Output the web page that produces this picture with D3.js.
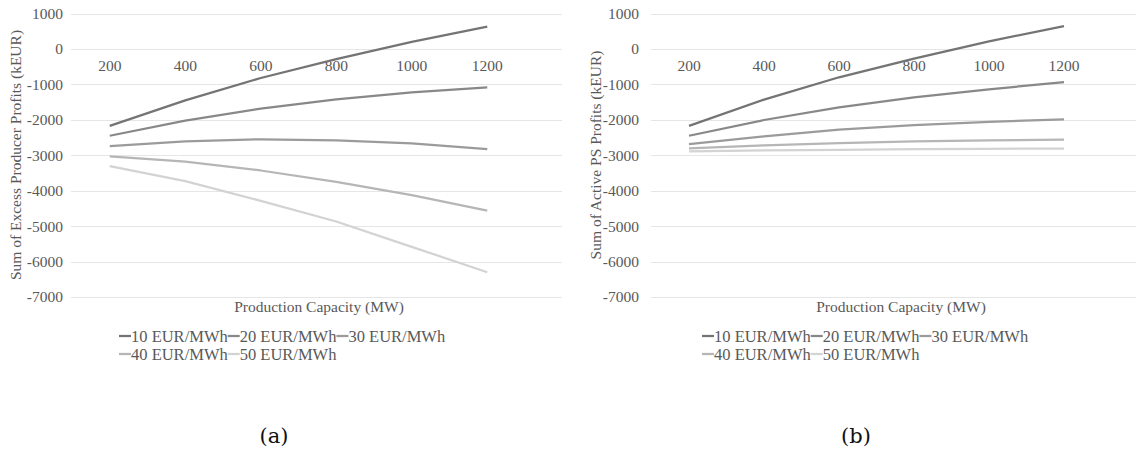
<!DOCTYPE html>
<html><head><meta charset="utf-8">
<script src="https://cdn.jsdelivr.net/npm/d3@7"></script>
<style>body{margin:0;background:#fff}svg{display:block}
svg text{font-family:"Liberation Serif","Times New Roman",Times,serif !important;}
svg text.cap{font-family:"DejaVu Serif",serif !important;}
</style>
</head><body>
<svg id="c" width="1136" height="455"></svg>
<script>
const categories = [200, 400, 600, 800, 1000, 1200];
const seriesNames = ["10 EUR/MWh", "20 EUR/MWh", "30 EUR/MWh", "40 EUR/MWh", "50 EUR/MWh"];
const yTicks = [1000, 0, -1000, -2000, -3000, -4000, -5000, -6000, -7000];
// Chart (a): Sum of Excess Producer Profits (kEUR)
const a10 = [-2170, -1450, -820, -290, 200, 630];
const a20 = [-2450, -2025, -1685, -1420, -1225, -1085];
const a30 = [-2740, -2610, -2550, -2580, -2665, -2825];
const a40 = [-3030, -3180, -3430, -3750, -4125, -4560];
const a50 = [-3305, -3730, -4285, -4870, -5585, -6300];
// Chart (b): Sum of Active PS Profits (kEUR)
const b10 = [-2170, -1430, -800, -275, 215, 645];
const b20 = [-2450, -2005, -1650, -1370, -1140, -935];
const b30 = [-2685, -2470, -2280, -2150, -2055, -1990];
const b40 = [-2805, -2720, -2655, -2610, -2580, -2560];
const b50 = [-2890, -2860, -2845, -2830, -2820, -2810];

const colors = ["#747474", "#888888", "#9b9b9b", "#b6b6b6", "#d3d3d3"];
const svg = d3.select("#c");
const TXT = "#595959";
const FS = 15.5;
const LFS = 16.5;

function drawChart(cfg) {
  const g = svg.append("g");
  const y = d3.scaleLinear().domain([-7000, 1000]).range([297, 13.5]);
  const x = d3.scaleBand().domain(categories).range([cfg.bandL, cfg.bandR]);
  const cx = d => x(d) + x.bandwidth() / 2;
  // gridlines
  g.append("g").selectAll("line").data(yTicks).join("line")
    .attr("x1", cfg.gridL).attr("x2", cfg.gridR)
    .attr("y1", d => Math.round(y(d)) + 0.5).attr("y2", d => Math.round(y(d)) + 0.5)
    .attr("stroke", "#e6e6e6").attr("stroke-width", 1);
  // y axis labels
  const yAxis = d3.axisLeft(y).tickValues(yTicks).tickSize(0).tickPadding(0).tickFormat(d => String(d));
  const ya = g.append("g").attr("transform", `translate(${cfg.yLabelX},0)`).call(yAxis);
  ya.select(".domain").remove();
  ya.selectAll("text").attr("font-size", FS).attr("fill", TXT);
  // x axis labels (category axis crossing at 0)
  const xAxis = d3.axisBottom(x).tickSize(0).tickPadding(0).tickFormat(d => String(d));
  const xa = g.append("g").attr("transform", `translate(0,${y(0) + 11})`).call(xAxis);
  xa.select(".domain").remove();
  xa.selectAll("text").attr("font-size", FS).attr("fill", TXT);
  // lines
  const line = d3.line().x((d, i) => cx(categories[i])).y(d => y(d));
  cfg.data.forEach((s, i) => {
    g.append("path").datum(s).attr("d", line).attr("fill", "none")
      .attr("stroke", colors[i]).attr("stroke-width", 2.25).attr("stroke-linejoin", "round");
  });
  // y title
  g.append("text").attr("transform", `translate(${cfg.yTitleX},155) rotate(-90)`)
    .attr("text-anchor", "middle").attr("dy", "0.35em")
    .attr("font-size", FS).attr("fill", TXT).text(cfg.yTitle);
  // x title
  g.append("text").attr("x", cfg.xTitleX).attr("y", 307).attr("dy", "0.35em")
    .attr("text-anchor", "middle").attr("font-size", FS)
    .attr("fill", TXT).text("Production Capacity (MW)");
  // legend (items chained, 3 per row)
  let lx = cfg.legendX;
  seriesNames.forEach((n, i) => {
    if (i === 3) lx = cfg.legendX;
    const ly = i < 3 ? 336 : 354;
    g.append("line").attr("x1", lx).attr("x2", lx + 12).attr("y1", ly).attr("y2", ly)
      .attr("stroke", colors[i]).attr("stroke-width", 2.25);
    const t = g.append("text").attr("x", lx + 12).attr("y", ly).attr("dy", "0.35em")
      .attr("font-size", LFS).attr("fill", TXT).text(n);
    lx += 12 + t.node().getComputedTextLength();
  });
  // caption
  g.append("text").attr("class", "cap").attr("x", cfg.capX).attr("y", 436).attr("dy", "0.35em")
    .attr("text-anchor", "middle")
    .attr("font-size", 21).attr("fill", "#111").text(cfg.caption);
}

drawChart({data: [a10, a20, a30, a40, a50], bandL: 72, bandR: 525, gridL: 71, gridR: 562,
  yLabelX: 63, yTitleX: 16, xTitleX: 319, legendX: 119, capX: 274,
  yTitle: "Sum of Excess Producer Profits (kEUR)", caption: "(a)"});
drawChart({data: [b10, b20, b30, b40, b50], bandL: 651.5, bandR: 1101.5, gridL: 651, gridR: 1136,
  yLabelX: 639, yTitleX: 596, xTitleX: 901, legendX: 702, capX: 856,
  yTitle: "Sum of Active PS Profits (kEUR)", caption: "(b)"});
</script>
</body></html>
